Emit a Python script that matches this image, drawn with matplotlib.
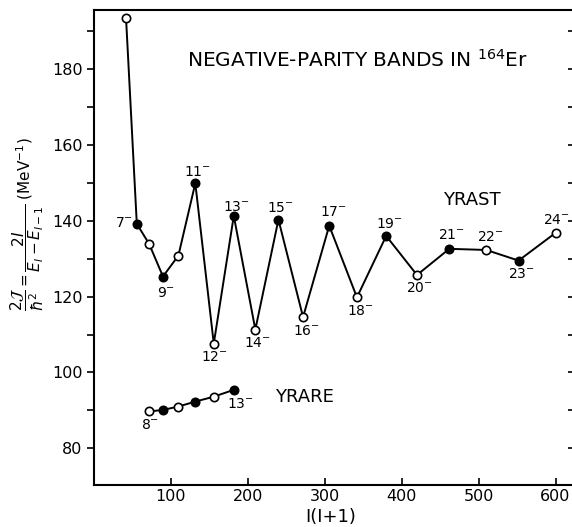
import numpy as np
import matplotlib
matplotlib.use('Agg')
import matplotlib.pyplot as plt

# yrast band: I(I+1) and 2J/hbar^2
yrast_spin = [6, 7, 8, 9, 10, 11, 12, 13, 14, 15, 16, 17, 18, 19, 20, 21, 22, 23, 24]
yrast_x = [42, 56, 72, 90, 110, 132, 156, 182, 210, 240, 272, 306, 342, 380, 420, 462, 510, 552, 600]
yrast_y = [193.5, 139.2, 133.9, 125.3, 130.8, 149.9, 107.6, 141.3, 111.3, 140.3, 114.6,
           138.7, 119.8, 136.0, 125.7, 132.6, 132.3, 129.5, 136.8]

# yrare band
yrare_spin = [8, 9, 10, 11, 12, 13]
yrare_x = [72, 90, 110, 132, 156, 182]
yrare_y = [89.7, 90.1, 91.0, 92.3, 93.6, 95.4]

# labelled states
yrast_labels = {7: '7', 9: '9', 11: '11', 12: '12', 13: '13', 14: '14', 15: '15', 16: '16',
                17: '17', 18: '18', 19: '19', 20: '20', 21: '21', 22: '22', 23: '23', 24: '24'}
yrare_labels = {8: '8', 13: '13'}

# label offsets in pixels (dx, dy), y up
yrast_off = {7: (-13, 1), 9: (3, -16), 11: (2, 11), 12: (1, -13), 13: (3, 9), 14: (2, -13),
             15: (2, 12), 16: (3, -14), 17: (4, 14), 18: (4, -14), 19: (3, 12), 20: (2, -13),
             21: (2, 14), 22: (4, 13), 23: (3, -13), 24: (1, 13)}
yrare_off = {8: (1, -14), 13: (7, -14)}

plt.rcParams['font.family'] = 'DejaVu Sans'
plt.rcParams['mathtext.fontset'] = 'dejavusans'

fig = plt.figure(figsize=(5.72, 5.27), dpi=100)
ax = fig.add_axes([93.7/572, 1-485/527, (574-93.7)/572, 475/527])


def band(xs, ys, spins):
    ax.plot(xs, ys, color='black', lw=1.4, zorder=1)
    for x, y, s in zip(xs, ys, spins):
        fc = 'black' if s % 2 else 'white'
        ax.plot(x, y, 'o', ms=6, mfc=fc, mec='black', mew=1.2, zorder=2)


band(yrast_x, yrast_y, yrast_spin)
band(yrare_x, yrare_y, yrare_spin)

for s, lab in yrast_labels.items():
    i = yrast_spin.index(s)
    ax.annotate(lab + r'$^{-}$', (yrast_x[i], yrast_y[i]), xytext=yrast_off[s],
                textcoords='offset pixels', ha='center', va='center', fontsize=10)
for s, lab in yrare_labels.items():
    i = yrare_spin.index(s)
    ax.annotate(lab + r'$^{-}$', (yrare_x[i], yrare_y[i]), xytext=yrare_off[s],
                textcoords='offset pixels', ha='center', va='center', fontsize=10)

ax.text(343, 182.5, r'NEGATIVE-PARITY BANDS IN $^{164}$Er', ha='center', va='center', fontsize=14.5)
ax.text(491, 145.5, 'YRAST', ha='center', va='center', fontsize=13)
ax.text(274, 93.5, 'YRARE', ha='center', va='center', fontsize=13)

ax.set_xlim(0, 624)
ax.set_ylim(70.3, 195.6)
ax.set_xticks([100, 200, 300, 400, 500, 600])
ax.set_yticks([80, 100, 120, 140, 160, 180])
ax.set_yticks(np.arange(80, 191, 10), minor=True)
ax.tick_params(axis='x', direction='in', length=5, width=1.2, labelsize=11.5, pad=3)
ax.tick_params(axis='y', which='both', direction='out', length=5, width=1.2, labelsize=11.5,
               pad=3)
ax.tick_params(axis='y', which='minor', labelleft=False)
for sp in ax.spines.values():
    sp.set_linewidth(1.5)

# right-hand ticks point inward
sec = ax.secondary_yaxis('right')
sec.set_yticks(np.arange(80, 191, 10))
sec.tick_params(direction='in', length=4, width=1.2, labelright=False)
sec.spines['right'].set_linewidth(1.5)

fig.text(331/572, 1-517/527, 'I(I+1)', ha='center', va='center', fontsize=13)
fig.text(27/572, 1-224/527,
         r'$\dfrac{2\mathcal{J}}{\hbar^2}=\dfrac{2I}{E_I-E_{I-1}}$ (MeV$^{-1}$)',
         rotation=90, ha='center', va='center', fontsize=11)

fig.savefig('out.png', dpi=100)
